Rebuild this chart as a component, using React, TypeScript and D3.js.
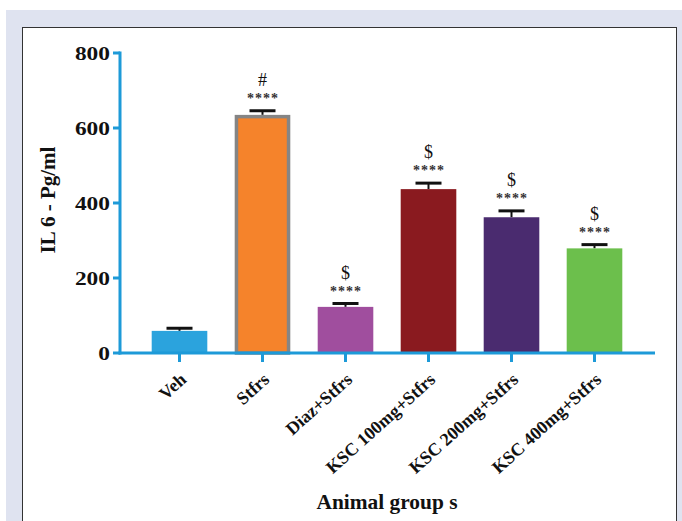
import React, { useEffect, useRef } from "react";
import * as d3 from "d3";

const groups = ["Veh", "Stfrs", "Diaz+Stfrs", "KSC 100mg+Stfrs", "KSC 200mg+Stfrs", "KSC 400mg+Stfrs"];
const means = [59, 635, 123, 437, 362, 279];
const errors = [7, 11, 9, 16, 17, 10];
const marks = ["", "#", "$", "$", "$", "$"];
const stars = ["", "****", "****", "****", "****", "****"];
const barColors = ["#2ba3dd", "#f5832b", "#a04e9e", "#8a1a1f", "#4a2b6f", "#6cbf4c"];
const yTicks = [0, 200, 400, 600, 800];

const W = 682;
const H = 521;
const axisColor = "#1d9ad8";
const serif = "'Liberation Serif', 'Times New Roman', serif";

export default function App() {
  const ref = useRef<SVGSVGElement>(null);

  useEffect(() => {
    const svg = d3.select(ref.current);
    svg.selectAll("*").remove();

    // frame
    svg.append("rect").attr("x", 6).attr("y", 10).attr("width", W - 6).attr("height", H - 10).attr("fill", "#dfe3f0");
    svg.append("rect").attr("x", 22.5).attr("y", 27.5).attr("width", 654).attr("height", H)
      .attr("fill", "#fff").attr("stroke", "#333").attr("stroke-width", 1);

    const x0 = 120, yBase = 353;
    const x = d3.scaleBand<string>().domain(groups).range([138, 636]).paddingInner(0.33).paddingOuter(0.165);
    const y = d3.scaleLinear().domain([0, 800]).range([yBase, 53]);

    const g = svg.append("g");

    // bars
    groups.forEach((name, i) => {
      const bx = x(name)!;
      const bw = x.bandwidth();
      const cx = bx + bw / 2;
      const top = y(means[i]);
      const errTop = y(means[i] + errors[i]);

      // error bar
      g.append("line").attr("x1", cx).attr("x2", cx).attr("y1", top).attr("y2", errTop)
        .attr("stroke", "#111").attr("stroke-width", 2);
      g.append("line").attr("x1", cx - 13).attr("x2", cx + 13).attr("y1", errTop).attr("y2", errTop)
        .attr("stroke", "#111").attr("stroke-width", 3);

      if (i === 1) {
        g.append("rect").attr("x", bx + 1.75).attr("y", top + 1.75).attr("width", bw - 3.5).attr("height", yBase - top - 1.75)
          .attr("fill", barColors[i]).attr("stroke", "#858585").attr("stroke-width", 3.5);
      } else {
        g.append("rect").attr("x", bx).attr("y", top).attr("width", bw).attr("height", yBase - top)
          .attr("fill", barColors[i]);
      }

      // significance marks
      if (stars[i]) {
        g.append("text").attr("x", cx + 0.5).attr("y", errTop - 8).attr("text-anchor", "middle")
          .attr("font-family", serif).attr("font-size", 14).attr("font-weight", "bold").attr("fill", "#333")
          .attr("letter-spacing", 1).text(stars[i]);
        g.append("text").attr("x", cx).attr("y", errTop - 25).attr("text-anchor", "middle")
          .attr("font-family", serif).attr("font-size", 18).attr("fill", "#111").text(marks[i]);
      }
    });

    // y axis
    const ya = svg.append("g");
    ya.append("line").attr("x1", x0).attr("x2", x0).attr("y1", y(800) - 1.5).attr("y2", yBase + 1.5)
      .attr("stroke", axisColor).attr("stroke-width", 3);
    ya.selectAll("line.tick").data(yTicks).enter().append("line").attr("class", "tick")
      .attr("x1", x0 - 7).attr("x2", x0).attr("y1", d => y(d)).attr("y2", d => y(d))
      .attr("stroke", axisColor).attr("stroke-width", 3);
    ya.selectAll("text").data(yTicks).enter().append("text")
      .attr("x", x0 - 10).attr("y", d => y(d)).attr("dy", "0.35em").attr("text-anchor", "end")
      .attr("font-family", serif).attr("font-weight", "bold").attr("font-size", 19).attr("fill", "#111")
      .attr("textLength", d => String(d).length * 11.7).attr("lengthAdjust", "spacingAndGlyphs")
      .text(d => d);

    // x axis
    const xa = svg.append("g");
    xa.append("line").attr("x1", x0 - 1.5).attr("x2", 655).attr("y1", yBase).attr("y2", yBase)
      .attr("stroke", axisColor).attr("stroke-width", 3);
    xa.selectAll("line.tick").data(groups).enter().append("line").attr("class", "tick")
      .attr("x1", d => x(d)! + x.bandwidth() / 2).attr("x2", d => x(d)! + x.bandwidth() / 2)
      .attr("y1", yBase).attr("y2", yBase + 9).attr("stroke", axisColor).attr("stroke-width", 3);
    xa.selectAll("text").data(groups).enter().append("text")
      .attr("transform", d => `translate(${x(d)! + x.bandwidth() / 2 + 8}, ${yBase + 28}) rotate(-42)`)
      .attr("text-anchor", "end")
      .attr("font-family", serif).attr("font-weight", "bold").attr("font-size", 18).attr("fill", "#111")
      .text(d => d);

    // axis titles
    svg.append("text").attr("transform", `translate(55, 200) rotate(-90)`).attr("text-anchor", "middle")
      .attr("font-family", serif).attr("font-weight", "bold").attr("font-size", 21).attr("fill", "#111")
      .text("IL 6 - Pg/ml");
    svg.append("text").attr("x", 387).attr("y", 509).attr("text-anchor", "middle")
      .attr("font-family", serif).attr("font-weight", "bold").attr("font-size", 21).attr("fill", "#111")
      .attr("textLength", 141).attr("lengthAdjust", "spacingAndGlyphs")
      .text("Animal group s");
  }, []);

  return (
    <svg ref={ref} width={W} height={H} style={{ position: "absolute", left: 0, top: 0 }} />
  );
}
